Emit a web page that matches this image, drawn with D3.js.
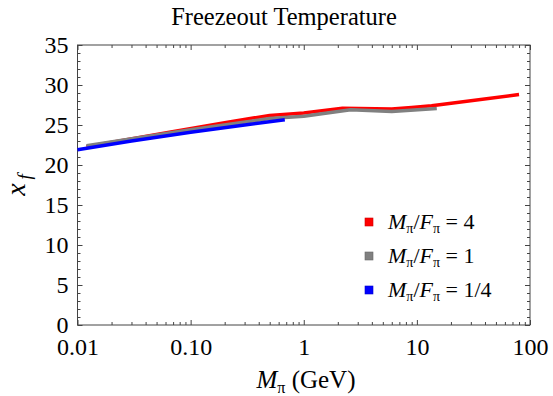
<!DOCTYPE html>
<html><head><meta charset="utf-8">
<script src="https://cdn.jsdelivr.net/npm/d3@7"></script>
<style>body{margin:0;background:#fff}</style></head><body>
<svg id="c" width="553" height="396"></svg>
<script>
// ---- data ----
const seriesNames = ["4", "1", "1/4"];
const seriesColors = ["#ff0000", "#808080", "#0000ff"];
const redData  = [[0.012,22.3],[0.065,24.1],[0.2,25.3],[0.5,26.2],[1,26.5],[2.2,27.1],[6,27.0],[9,27.2],[13.5,27.4],[80,28.8]];
const grayData = [[0.012,22.4],[0.1,24.4],[0.5,25.8],[1,26.1],[2.6,26.9],[6,26.7],[15,27.05]];
const blueData = [[0.01,21.9],[0.03,23.0],[0.1,24.1],[0.3,25.0],[0.68,25.65]];
const xMajor = [0.01, 0.1, 1, 10, 100];
const xMajorLabels = ["0.01", "0.10", "1", "10", "100"];
const yMajor = [0, 5, 10, 15, 20, 25, 30, 35];

const FONT = "Liberation Serif";
const svg = d3.select("#c");
const L = 77.5, R = 530, T = 45, B = 325;
const x = d3.scaleLog().domain([0.01, 100]).range([L, R]);
const y = d3.scaleLinear().domain([0, 35]).range([B, T]);

const xMinor = [];
for (let d = 0.01; d < 100; d *= 10) for (let k = 2; k <= 9; k++) xMinor.push(+(d * k).toPrecision(3));
const yMinor = d3.range(0, 36).filter(v => v % 5 !== 0);

const frameCol = "#444";
function styleAxis(g) {
  g.select(".domain").remove();
  g.selectAll("line").attr("stroke", frameCol);
  g.selectAll("text").style("font-family", FONT).style("font-size", "24px").attr("fill", "#000");
}
// bottom
svg.append("g").attr("transform", `translate(0,${B})`)
  .call(d3.axisBottom(x).tickValues(xMinor).tickSize(-3).tickFormat("")).call(styleAxis);
svg.append("g").attr("transform", `translate(0,${B})`)
  .call(d3.axisBottom(x).tickValues(xMajor).tickSize(-5).tickPadding(13)
    .tickFormat((d, i) => xMajorLabels[i])).call(styleAxis);
// top
svg.append("g").attr("transform", `translate(0,${T})`)
  .call(d3.axisTop(x).tickValues(xMinor).tickSize(-3).tickFormat("")).call(styleAxis);
svg.append("g").attr("transform", `translate(0,${T})`)
  .call(d3.axisTop(x).tickValues(xMajor).tickSize(-5).tickFormat("")).call(styleAxis);
// left
svg.append("g").attr("transform", `translate(${L},0)`)
  .call(d3.axisLeft(y).tickValues(yMinor).tickSize(-3).tickFormat("")).call(styleAxis);
svg.append("g").attr("transform", `translate(${L},0)`)
  .call(d3.axisLeft(y).tickValues(yMajor).tickSize(-5).tickPadding(9).tickFormat(d3.format("d"))).call(styleAxis);
// right
svg.append("g").attr("transform", `translate(${R},0)`)
  .call(d3.axisRight(y).tickValues(yMinor).tickSize(-3).tickFormat("")).call(styleAxis);
svg.append("g").attr("transform", `translate(${R},0)`)
  .call(d3.axisRight(y).tickValues(yMajor).tickSize(-5).tickFormat("")).call(styleAxis);

svg.append("rect").attr("x", L).attr("y", T).attr("width", R - L).attr("height", B - T)
  .attr("fill", "none").attr("stroke", frameCol).attr("stroke-width", 1);

// lines
const line = d3.line().x(d => x(d[0])).y(d => y(d[1]));
[redData, grayData, blueData].forEach((data, i) => {
  svg.append("path").datum(data).attr("d", line).attr("fill", "none")
    .attr("stroke", seriesColors[i]).attr("stroke-width", 3.5).attr("stroke-linejoin", "round");
});

function txt(sel, size, style) {
  return sel.style("font-family", FONT).style("font-size", size + "px").style("font-style", style || "normal");
}

// title
txt(svg.append("text"), 24.5).attr("x", 284).attr("y", 25).attr("text-anchor", "middle")
  .text("Freezeout Temperature");

// x label
const xl = txt(svg.append("text"), 25).attr("x", 306).attr("y", 388).attr("text-anchor", "middle");
txt(xl.append("tspan"), 25, "italic").text("M");
txt(xl.append("tspan"), 16).attr("dy", 5).text("π");
txt(xl.append("tspan"), 25).attr("dy", -5).text(" (GeV)");

// y label
const yl = txt(svg.append("text"), 28).attr("transform", `translate(25,185) rotate(-90)`).attr("text-anchor", "middle");
txt(yl.append("tspan"), 28, "italic").text("x");
txt(yl.append("tspan"), 19, "italic").attr("dy", 6).attr("dx", 4).text("f");

// legend
seriesNames.forEach((nm, i) => {
  const ly = 222 + i * 34;
  svg.append("rect").attr("x", 365).attr("y", ly - 4).attr("width", 8).attr("height", 8)
    .attr("fill", seriesColors[i]).attr("stroke", d3.color(seriesColors[i]).darker(0.6)).attr("stroke-width", 0.6);
  const t = txt(svg.append("text"), 22).attr("x", 388).attr("y", ly + 7);
  txt(t.append("tspan"), 22, "italic").text("M");
  txt(t.append("tspan"), 14).attr("dy", 4).text("π");
  txt(t.append("tspan"), 22).attr("dy", -4).text("/");
  txt(t.append("tspan"), 22, "italic").text("F");
  txt(t.append("tspan"), 14).attr("dy", 4).text("π");
  txt(t.append("tspan"), 22).attr("dy", -4).text(" = " + nm);
});
</script></body></html>
